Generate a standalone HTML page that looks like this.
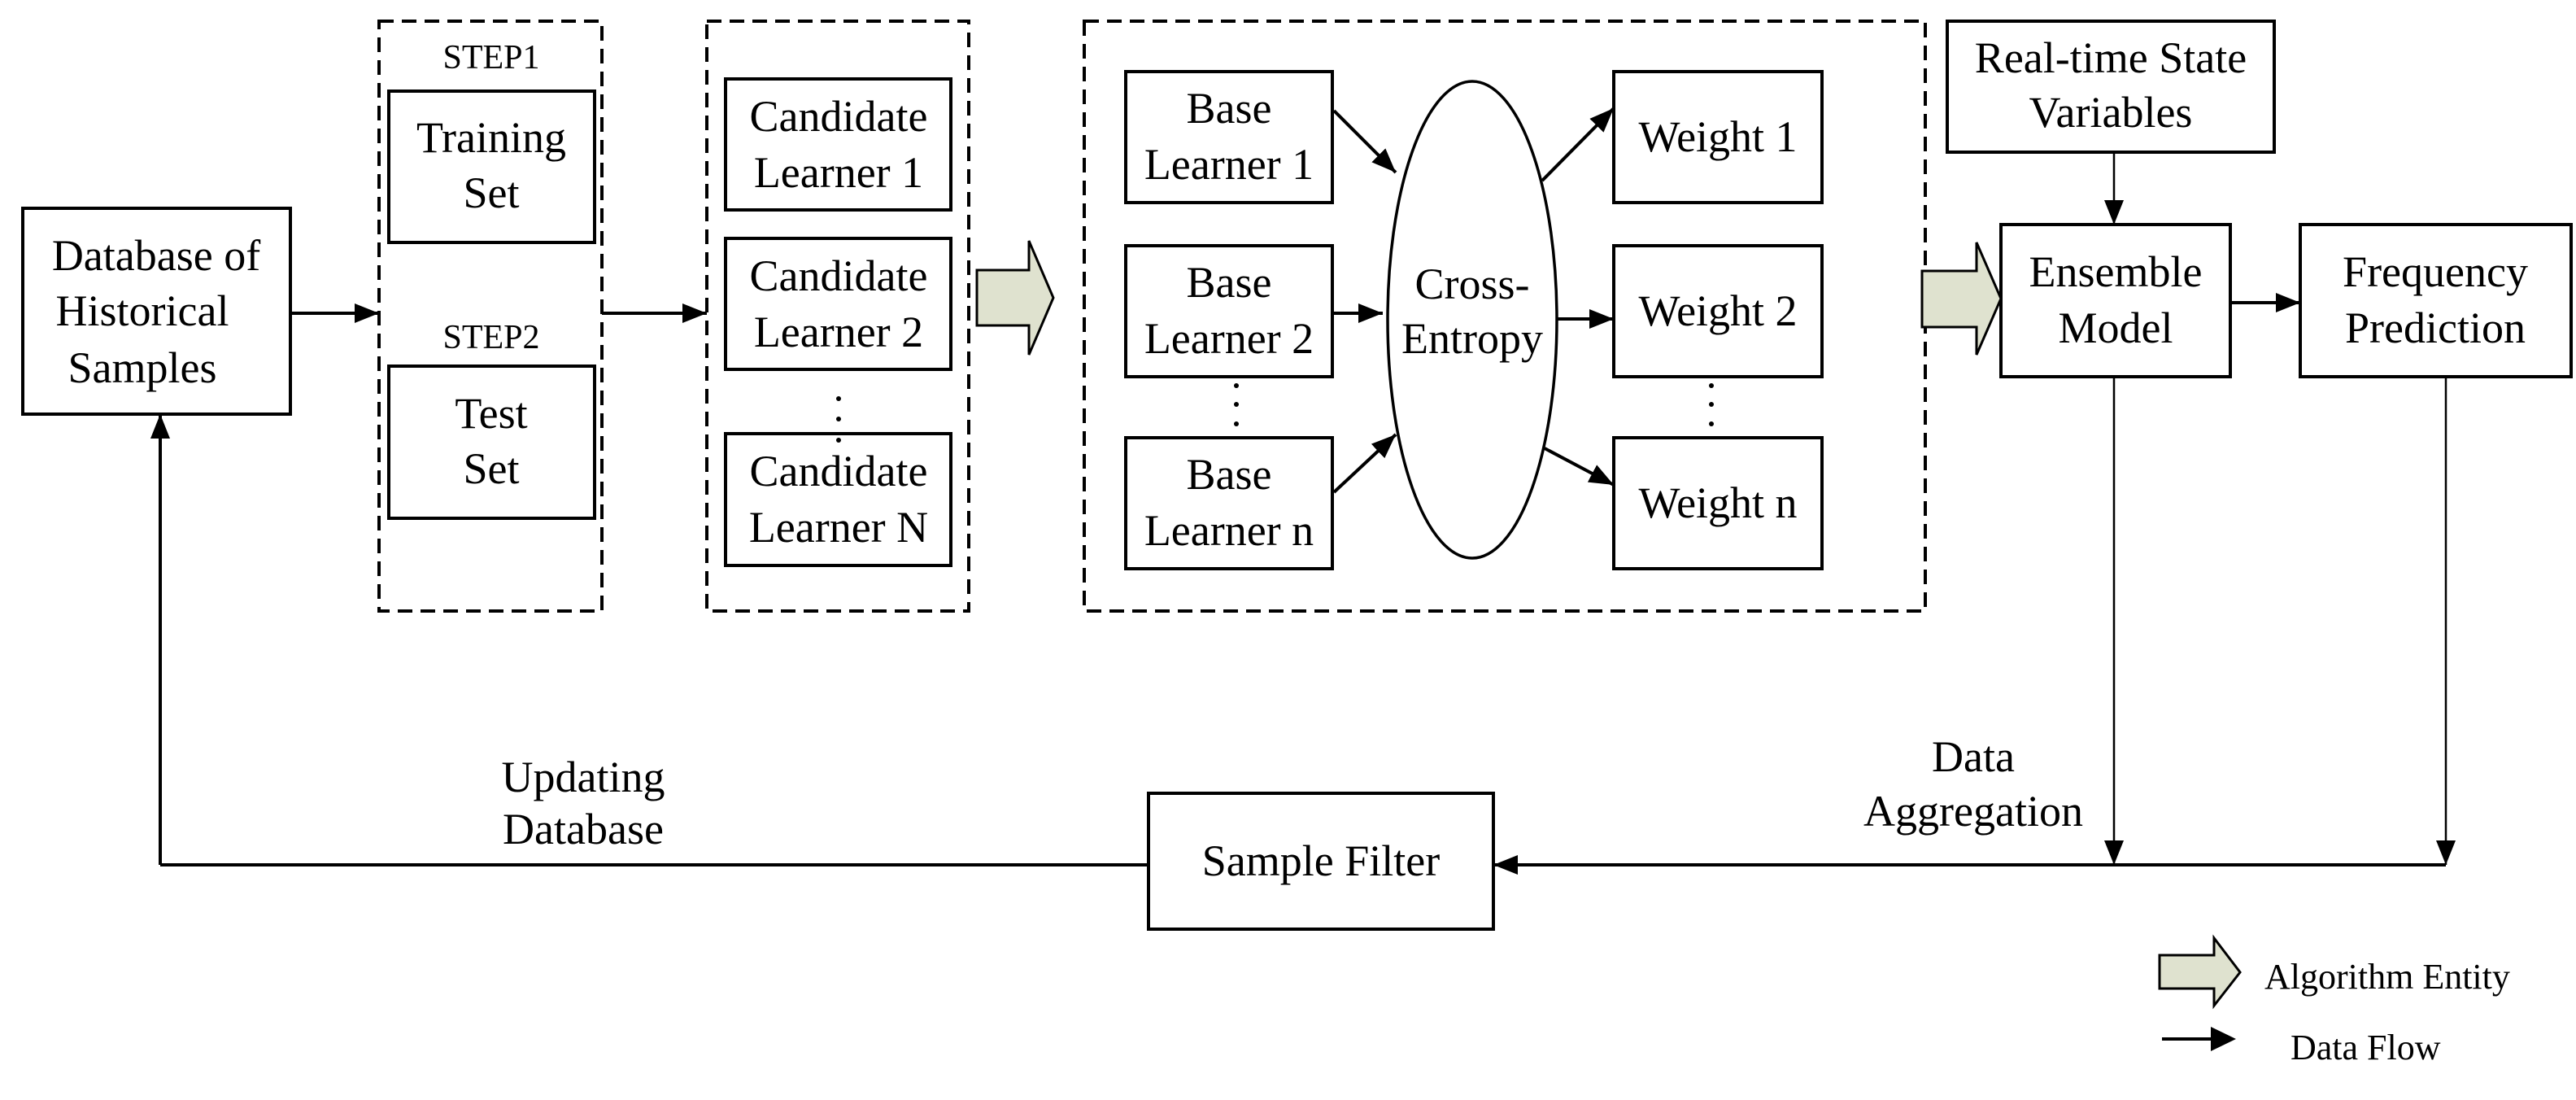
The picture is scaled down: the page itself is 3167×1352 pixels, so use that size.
<!DOCTYPE html>
<html><head><meta charset="utf-8"><style>
html,body{margin:0;padding:0;background:#fff;}
svg{display:block;}
text{font-family:"Liberation Serif",serif;fill:#000;}
</style></head><body>
<svg width="3167" height="1352" viewBox="0 0 3167 1352" xmlns="http://www.w3.org/2000/svg">
<defs>
<marker id="ah" markerWidth="30" markerHeight="24" refX="30" refY="12" orient="auto" markerUnits="userSpaceOnUse">
<path d="M0,0 L30,12 L0,24 Z" fill="#000"/>
</marker>
</defs>
<rect width="3167" height="1352" fill="#fff"/>
<g fill="none" stroke="#000" stroke-width="4">
<rect x="466" y="26" width="274" height="725" stroke-dasharray="18,10"/>
<rect x="869" y="26" width="322" height="725" stroke-dasharray="18,10"/>
<rect x="1333" y="26" width="1034" height="725" stroke-dasharray="18,10"/>
<rect x="28" y="256" width="329" height="253"/>
<rect x="478" y="112" width="253" height="186"/>
<rect x="478" y="450" width="253" height="187"/>
<rect x="892" y="97" width="277" height="161"/>
<rect x="892" y="293" width="277" height="161"/>
<rect x="892" y="533" width="277" height="162"/>
<rect x="1384" y="88" width="254" height="161"/>
<rect x="1384" y="302" width="254" height="161"/>
<rect x="1384" y="538" width="254" height="161"/>
<rect x="1984" y="88" width="256" height="161"/>
<rect x="1984" y="302" width="256" height="161"/>
<rect x="1984" y="538" width="256" height="161"/>
<ellipse cx="1810" cy="393" rx="104" ry="293" stroke-width="3.5"/>
<rect x="2394" y="26" width="402" height="161"/>
<rect x="2460" y="276" width="282" height="187"/>
<rect x="2828" y="276" width="333" height="187"/>
<rect x="1412" y="975" width="424" height="167"/>
</g>
<g fill="#dfe2cf" stroke="#000" stroke-width="3">
<path d="M1201,332 L1265,332 L1265,296 L1295,366 L1265,436 L1265,400 L1201,400 Z"/>
<path d="M2363,333 L2430,333 L2430,298 L2460,367 L2430,436 L2430,402 L2363,402 Z"/>
<path d="M2655,1174 L2722,1174 L2722,1153 L2754,1195 L2722,1236 L2722,1215 L2655,1215 Z"/>
</g>
<g stroke="#000" stroke-width="4" fill="none" marker-end="url(#ah)">
<line x1="357" y1="385" x2="466" y2="385"/>
<line x1="740" y1="385" x2="869" y2="385"/>
<line x1="1640" y1="136" x2="1716" y2="212"/>
<line x1="1640" y1="385" x2="1700" y2="385"/>
<line x1="1640" y1="605" x2="1716" y2="534"/>
<line x1="1896" y1="222" x2="1984" y2="133"/>
<line x1="1914" y1="392" x2="1984" y2="392"/>
<line x1="1899" y1="551" x2="1984" y2="596"/>
<line x1="2742" y1="372" x2="2828" y2="372"/>
<line x1="3007" y1="1063" x2="1836" y2="1063"/>
<line x1="197" y1="1063" x2="197" y2="509"/>
</g>
<g stroke="#000" stroke-width="2.5" fill="none" marker-end="url(#ah)">
<line x1="2599" y1="187" x2="2599" y2="276"/>
<line x1="2599" y1="463" x2="2599" y2="1063"/>
<line x1="3007" y1="463" x2="3007" y2="1063"/>
</g>
<g stroke="#000" stroke-width="4" fill="none">
<line x1="197" y1="1063" x2="1412" y2="1063"/>
<line x1="2658" y1="1277" x2="2722" y2="1277"/>
</g>
<path d="M2718,1262 L2749,1277 L2718,1292 Z" fill="#000"/>
<g fill="#000">
<circle cx="1031" cy="490" r="3"/><circle cx="1031" cy="515" r="3"/><circle cx="1031" cy="541" r="3"/>
<circle cx="1520" cy="474" r="3"/><circle cx="1520" cy="497" r="3"/><circle cx="1520" cy="521" r="3"/>
<circle cx="2104" cy="474" r="3"/><circle cx="2104" cy="497" r="3"/><circle cx="2104" cy="521" r="3"/>
</g>
<g font-size="54" text-anchor="middle">
<text x="192" y="332">Database of</text>
<text x="175" y="400">Historical</text>
<text x="175" y="470">Samples</text>
<text x="604" y="84" font-size="42">STEP1</text>
<text x="604" y="428" font-size="42">STEP2</text>
<text x="604" y="187">Training</text>
<text x="604" y="255">Set</text>
<text x="604" y="526">Test</text>
<text x="604" y="594">Set</text>
<text x="1031" y="161">Candidate</text>
<text x="1031" y="230">Learner 1</text>
<text x="1031" y="357">Candidate</text>
<text x="1031" y="426">Learner 2</text>
<text x="1031" y="597">Candidate</text>
<text x="1031" y="666">Learner N</text>
<text x="1511" y="151">Base</text>
<text x="1511" y="220">Learner 1</text>
<text x="1511" y="365">Base</text>
<text x="1511" y="434">Learner 2</text>
<text x="1511" y="601">Base</text>
<text x="1511" y="670">Learner n</text>
<text x="1810" y="367">Cross-</text>
<text x="1810" y="434">Entropy</text>
<text x="2112" y="186">Weight 1</text>
<text x="2112" y="400">Weight 2</text>
<text x="2112" y="636">Weight n</text>
<text x="2595" y="89">Real-time State</text>
<text x="2595" y="156">Variables</text>
<text x="2601" y="352">Ensemble</text>
<text x="2601" y="421">Model</text>
<text x="2994" y="352">Frequency</text>
<text x="2994" y="421">Prediction</text>
<text x="1624" y="1076">Sample Filter</text>
<text x="717" y="973">Updating</text>
<text x="717" y="1037">Database</text>
<text x="2426" y="948">Data</text>
<text x="2426" y="1015">Aggregation</text>
</g>
<g font-size="44">
<text x="2784" y="1215">Algorithm Entity</text>
<text x="2816" y="1302">Data Flow</text>
</g>
</svg>
</body></html>
